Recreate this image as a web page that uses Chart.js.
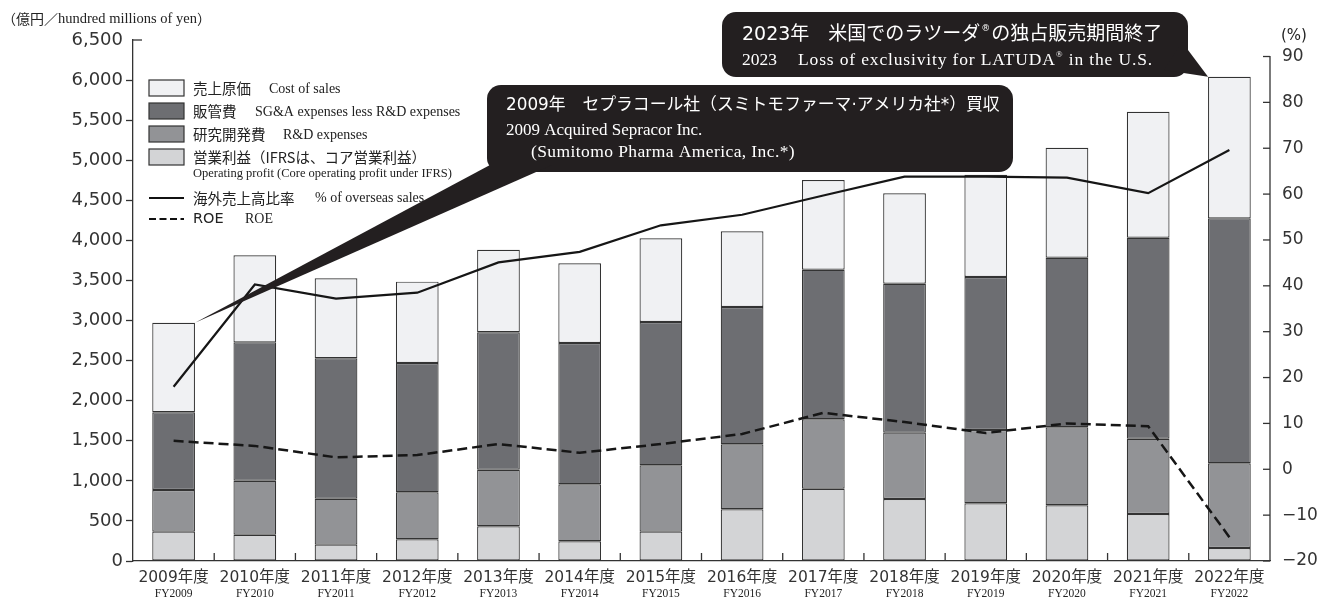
<!DOCTYPE html>
<html><head><meta charset="utf-8">
<script src="https://cdn.jsdelivr.net/npm/chart.js@4"></script>
<style>html,body{margin:0;padding:0;background:#fff;} canvas{display:block;}</style>
</head><body>
<canvas id="c" width="1317" height="601"></canvas>
<script>
const categories = ['2009年度','2010年度','2011年度','2012年度','2013年度','2014年度','2015年度','2016年度','2017年度','2018年度','2019年度','2020年度','2021年度','2022年度'];
const fyLabels = ['FY2009','FY2010','FY2011','FY2012','FY2013','FY2014','FY2015','FY2016','FY2017','FY2018','FY2019','FY2020','FY2021','FY2022'];
const operatingProfit = [366,328,204,271,433,246,366,645,902,773,720,695,586,162];
const rdExpenses      = [520,674,573,586,706,711,828,811,866,828,915,973,940,1057];
const sgaExpenses     = [969,1726,1752,1613,1714,1763,1788,1713,1866,1858,1908,2116,2507,3056];
const costOfSales     = [1118,1086,998,1015,1031,994,1044,944,1119,1128,1276,1372,1572,1767];
const overseasPct     = [18.0,40.3,37.2,38.5,45.1,47.4,53.2,55.5,59.7,63.8,63.8,63.6,60.2,69.6];
const roePct          = [6.2,5.1,2.6,3.1,5.5,3.6,5.5,7.7,12.3,10.3,7.9,10.0,9.4,-14.8];
const leftTicks  = {min:0, max:6500, step:500};
const rightTicks = [-20,-10,0,10,20,30,40,50,60,70,80,90];

const SANS = "'DejaVu Sans','Noto Sans CJK JP',sans-serif";
const JP = "'Noto Sans CJK JP','DejaVu Sans',sans-serif";
const SERIF = "'Liberation Serif','DejaVu Serif',serif";
const C_COS='#f0f1f3', C_SGA='#6d6e72', C_RD='#929396', C_OP='#d3d4d6', C_EDGE='#333';

function seg(ctx, parts, x, y){
  ctx.textBaseline='middle'; ctx.textAlign='left';
  for(const [t,f,dx] of parts){ if(dx!==undefined) x=dx; ctx.font=f; ctx.fillText(t,x,y); x+=ctx.measureText(t).width; }
  return x;
}
function fit(ctx, t, family, x, y, targetW, base){
  ctx.font=base+'px '+family; const w=ctx.measureText(t).width;
  const s=base*targetW/w; ctx.font=s.toFixed(2)+'px '+family;
  ctx.textBaseline='middle'; ctx.textAlign='left'; ctx.fillText(t,x,y);
}
function line(ctx,x1,y1,x2,y2){ctx.beginPath();ctx.moveTo(x1,y1);ctx.lineTo(x2,y2);ctx.stroke();}
function rrect(ctx,x,y,w,h,r){ctx.beginPath();ctx.moveTo(x+r,y);ctx.arcTo(x+w,y,x+w,y+h,r);ctx.arcTo(x+w,y+h,x,y+h,r);ctx.arcTo(x,y+h,x,y,r);ctx.arcTo(x,y,x+w,y,r);ctx.closePath();ctx.fill();}

const decor = {
  id:'decor',
  afterDraw(chart){
    const ctx=chart.ctx, a=chart.chartArea, x=chart.scales.x, y=chart.scales.y, y1=chart.scales.y1;
    ctx.save();
    ctx.strokeStyle=C_EDGE; ctx.lineWidth=1.3;
    const yt=y.getPixelForValue(leftTicks.max); line(ctx,a.left,yt,a.left+9,yt);
    const r90=y1.getPixelForValue(rightTicks[rightTicks.length-1]);
    line(ctx,a.right,r90-0.6,a.right,a.bottom);
    rightTicks.forEach(v=>{const py=y1.getPixelForValue(v); line(ctx,a.right-7,py,a.right,py);});
    for(let i=1;i<categories.length;i++){const bx=(x.getPixelForValue(i-1)+x.getPixelForValue(i))/2; line(ctx,bx,a.bottom,bx,a.bottom-8);}
    ctx.fillStyle='#222'; ctx.textAlign='center'; ctx.textBaseline='middle'; ctx.font='11.5px '+SERIF;
    fyLabels.forEach((t,i)=>ctx.fillText(t,x.getPixelForValue(i),594));
    ctx.fillStyle='#222';
    seg(ctx,[['（億円／','14px '+JP],['hundred millions of yen','14.5px '+SERIF],['）','14px '+JP]],2,19);
    ctx.font='15px '+SANS; ctx.textAlign='left'; ctx.fillText('(%)',1281,36);
    // legend
    const bx0=149,bw=35,bh=16;
    const boxes=[[C_COS,88,'売上原価','Cost of sales',269],[C_SGA,111,'販管費','SG&A expenses less R&D expenses',255],[C_RD,134,'研究開発費','R&D expenses',283],[C_OP,157,'営業利益（IFRSは、コア営業利益）',null,0]];
    ctx.lineWidth=1.2;
    boxes.forEach(([c,cy,jp,en,ex])=>{
      ctx.fillStyle=c; ctx.fillRect(bx0,cy-bh/2,bw,bh); ctx.strokeStyle=C_EDGE; ctx.strokeRect(bx0,cy-bh/2,bw,bh);
      ctx.fillStyle='#222'; seg(ctx,[[jp,'14.5px '+JP,193]],0,cy);
      if(en) seg(ctx,[[en,'14px '+SERIF,ex]],0,cy+1);
    });
    seg(ctx,[['Operating profit (Core operating profit under IFRS)','12.5px '+SERIF,193]],0,174);
    ctx.strokeStyle='#111'; ctx.lineWidth=2.2; line(ctx,bx0,198,bx0+bw,198);
    seg(ctx,[['海外売上高比率','14.5px '+JP,193],['% of overseas sales','14px '+SERIF,315]],0,198);
    ctx.setLineDash([7,3.5]); line(ctx,bx0,219,bx0+bw,219); ctx.setLineDash([]);
    seg(ctx,[['ROE','14.5px '+SANS,193],['ROE','14px '+SERIF,245]],0,219);
    // callouts
    const cos=chart.getDatasetMeta(3).data;
    const b0=cos[0], bN=cos[cos.length-1];
    ctx.fillStyle='#231f20';
    rrect(ctx,487,85,526,87,14);
    ctx.beginPath(); ctx.moveTo(b0.x+b0.width/2,b0.y); ctx.lineTo(490,165); ctx.lineTo(552,165); ctx.closePath(); ctx.fill();
    rrect(ctx,722,12,466,65,14);
    ctx.beginPath(); ctx.moveTo(1164,70); ctx.lineTo(1182,42); ctx.lineTo(bN.x-bN.width/2,bN.y); ctx.closePath(); ctx.fill();
    ctx.fillStyle='#fff';
    fit(ctx,'2009年　セプラコール社（スミトモファーマ·アメリカ社*）買収',SANS,506,106,494,18);
    seg(ctx,[['2009 Acquired Sepracor Inc.','17px '+SERIF,506]],0,131);
    ctx.letterSpacing='0.4px';
    seg(ctx,[['(Sumitomo Pharma America, Inc.*)','17.5px '+SERIF,531]],0,152);
    ctx.letterSpacing='0px';
    let px=seg(ctx,[['2023年　米国でのラツーダ','19px '+SANS,742]],0,35);
    px=seg(ctx,[['®','9px '+SANS,px+1]],0,29);
    seg(ctx,[['の独占販売期間終了','19px '+SANS,px+1]],0,35);
    seg(ctx,[['2023','17.5px '+SERIF,742]],0,60);
    ctx.letterSpacing='0.85px';
    px=seg(ctx,[['Loss of exclusivity for LATUDA','17.5px '+SERIF,798]],0,60);
    px=seg(ctx,[['®','9px '+SERIF,px]],0,55);
    seg(ctx,[[' in the U.S.','17.5px '+SERIF,px]],0,60);
    ctx.letterSpacing='0px';
    ctx.restore();
  }
};

const barBase = {type:'bar', stack:'s', yAxisID:'y', borderColor:C_EDGE, borderWidth:1.2, borderSkipped:false, barPercentage:0.526, categoryPercentage:1, order:2};
new Chart(document.getElementById('c'),{
  data:{labels:categories, datasets:[
    {...barBase, label:'営業利益', data:operatingProfit, backgroundColor:C_OP},
    {...barBase, label:'研究開発費', data:rdExpenses, backgroundColor:C_RD},
    {...barBase, label:'販管費', data:sgaExpenses, backgroundColor:C_SGA},
    {...barBase, label:'売上原価', data:costOfSales, backgroundColor:C_COS},
    {type:'line', label:'海外売上高比率', data:overseasPct, yAxisID:'y1', borderColor:'#161616', borderWidth:2.2, pointRadius:0, tension:0, fill:false, order:0},
    {type:'line', label:'ROE', data:roePct, yAxisID:'y1', borderColor:'#161616', borderWidth:2.5, borderDash:[10,5], pointRadius:0, tension:0, fill:false, order:0}
  ]},
  options:{
    responsive:false, animation:false, devicePixelRatio:1,
    layout:{padding:{top:40,left:0,right:0,bottom:0}},
    plugins:{legend:{display:false}, tooltip:{enabled:false}},
    scales:{
      x:{stacked:true, offset:true, grid:{display:true, drawOnChartArea:false, drawTicks:false}, border:{color:C_EDGE,width:1.3},
         ticks:{font:{family:SANS,size:15.5}, color:'#333', padding:8, maxRotation:0, autoSkip:false},
         afterFit(s){s.height=40;}},
      y:{stacked:true, position:'left', min:leftTicks.min, max:leftTicks.max,
         ticks:{stepSize:leftTicks.step, autoSkip:false, callback:v=>v.toLocaleString('en-US'), font:{family:SANS,size:18}, color:'#333', padding:3},
         grid:{drawOnChartArea:false, tickLength:7, tickWidth:1.3, tickColor:c=>(c.tick&&c.tick.value===leftTicks.max)?'rgba(0,0,0,0)':C_EDGE},
         border:{color:C_EDGE,width:1.3},
         afterFit(s){s.width=133;}},
      y1:{position:'right', min:-20, max:93.6,
         afterBuildTicks(s){s.ticks=rightTicks.map(v=>({value:v}));},
         ticks:{autoSkip:false, callback:v=>v<0?'−'+Math.abs(v):String(v), font:{family:SANS,size:17}, color:'#333', padding:4},
         grid:{display:false}, border:{display:false},
         afterFit(s){s.width=47;}}
    }
  },
  plugins:[decor]
});
</script>
</body></html>
